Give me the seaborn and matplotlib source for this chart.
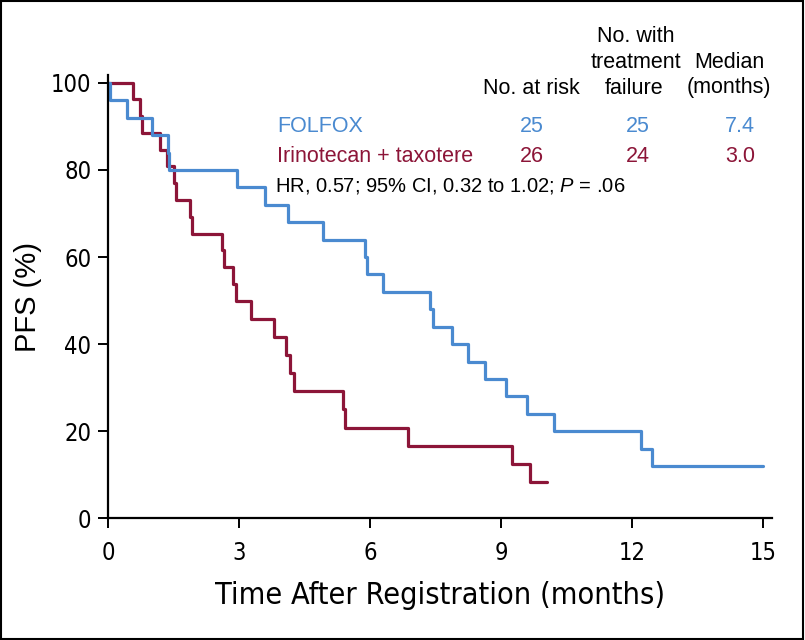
import numpy as np
import pandas as pd
import matplotlib
matplotlib.use("Agg")
import matplotlib.pyplot as plt
import seaborn as sns
from matplotlib.patches import Rectangle

# Kaplan-Meier step points (time in months, PFS %)
folfox_t = [0, 0.05, 0.44, 1.0, 1.37, 1.39, 2.95, 3.6, 4.11, 4.92, 5.88, 5.92, 6.3,
            7.38, 7.43, 7.87, 8.23, 8.63, 9.12, 9.6, 10.2, 12.2, 12.45, 15.0]
folfox_pfs = [100, 96, 92, 88, 84, 80, 76, 72, 68, 64, 60, 56, 52,
              48, 44, 40, 36, 32, 28, 24, 20, 16, 12, 12]

iri_t = [0, 0.57, 0.73, 0.78, 1.19, 1.36, 1.51, 1.55, 1.88, 1.92, 2.62, 2.66, 2.87,
         2.94, 3.28, 3.79, 4.08, 4.16, 4.25, 5.38, 5.42, 6.87, 9.24, 9.67, 10.04]
iri_pfs = [100, 96.2, 92.3, 88.5, 84.6, 80.8, 76.9, 73.1, 69.2, 65.4, 61.5, 57.7, 53.8,
           50.0, 45.8, 41.7, 37.5, 33.3, 29.2, 25.0, 20.8, 16.7, 12.5, 8.3, 8.3]

arms = ["FOLFOX", "Irinotecan + taxotere"]
n_at_risk = ["25", "26"]
n_failure = ["25", "24"]
medians = ["7.4", "3.0"]
colors = ["#4a8ad0", "#8c1538"]
x_ticks = [0, 3, 6, 9, 12, 15]
y_ticks = [0, 20, 40, 60, 80, 100]

df = pd.concat([
    pd.DataFrame({"time": folfox_t, "pfs": folfox_pfs, "arm": arms[0]}),
    pd.DataFrame({"time": iri_t, "pfs": iri_pfs, "arm": arms[1]}),
])

sns.set_style("ticks")
plt.rcParams["font.family"] = ["Liberation Sans", "DejaVu Sans"]
plt.rcParams["text.color"] = "black"
plt.rcParams["axes.labelcolor"] = "black"
plt.rcParams["mathtext.fontset"] = "custom"
plt.rcParams["mathtext.it"] = "Liberation Sans:italic"
plt.rcParams["mathtext.rm"] = "Liberation Sans"
cond = dict(family="DejaVu Sans", stretch="condensed")

W, H = 805, 640
fig = plt.figure(figsize=(W / 100, H / 100), dpi=100)
ax = fig.add_axes([108 / W, 1 - 518.3 / H, (772 - 108) / W, (518.3 - 75) / H])

sns.lineplot(data=df, x="time", y="pfs", hue="arm", palette=dict(zip(arms, colors)),
             hue_order=arms[::-1], estimator=None, drawstyle="steps-post",
             linewidth=2.3, legend=False, ax=ax)

ax.set_xlim(0, 15.2)
ax.set_ylim(0, 101.8)
ax.set_xticks(x_ticks)
ax.set_yticks(y_ticks)
for s in ["top", "right"]:
    ax.spines[s].set_visible(False)
for s in ["left", "bottom"]:
    ax.spines[s].set_linewidth(1.6)
    ax.spines[s].set_color("black")
ax.tick_params(direction="out", length=7, width=1.4, colors="black", labelsize=17)
ax.tick_params(axis="x", pad=9)
ax.tick_params(axis="y", pad=5)
for lab in ax.get_xticklabels() + ax.get_yticklabels():
    lab.set_fontproperties(dict(size=17, **cond))
ax.set_xlabel("Time After Registration (months)", fontsize=22, labelpad=12, **cond)
ax.set_ylabel("PFS (%)", fontsize=21, labelpad=6)


def ftext(x, y, s, **kw):
    fig.text(x / W, 1 - y / H, s, va="center", **kw)


fs = 15.5
ftext(531, 88, "No. at risk", ha="center", fontsize=fs)
ftext(636, 37, "No. with", ha="center", fontsize=fs)
ftext(636, 63, "treatment", ha="center", fontsize=fs)
ftext(634, 88, "failure", ha="center", fontsize=fs)
ftext(729, 63, "Median", ha="center", fontsize=fs)
ftext(729, 88, "(months)", ha="center", fontsize=fs)

rows_y = [126, 156]
for i in range(2):
    ftext(277, rows_y[i], arms[i], ha="left", fontsize=fs, color=colors[i])
    ftext(532, rows_y[i], n_at_risk[i], ha="center", fontsize=fs, color=colors[i])
    ftext(638, rows_y[i], n_failure[i], ha="center", fontsize=fs, color=colors[i])
    ftext(740, rows_y[i], medians[i], ha="center", fontsize=fs, color=colors[i])
ftext(275, 186, r"HR, 0.57; 95% CI, 0.32 to 1.02; $\it{P}$ = .06", ha="left", fontsize=14.5)

fig.patches.append(Rectangle((0.001, 0.002), 0.997, 0.996, transform=fig.transFigure,
                             fill=False, edgecolor="black", linewidth=1.5))

fig.savefig("out.png", dpi=100)
